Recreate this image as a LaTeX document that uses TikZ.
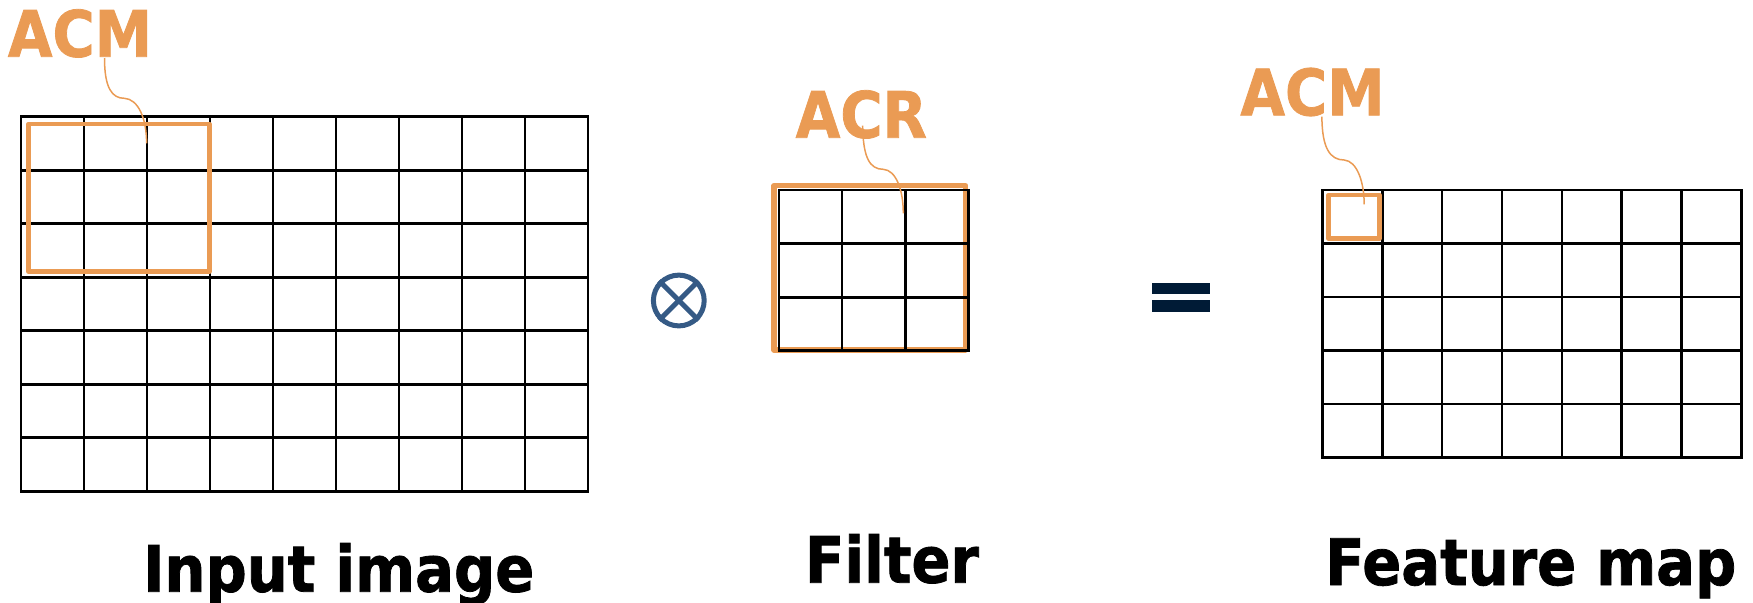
\documentclass[tikz,border=0pt]{standalone}
\usepackage{fontspec}
\newfontfamily\lblfont{DejaVu Sans}[FakeStretch=0.9, FakeBold=1.2]
\definecolor{accent}{RGB}{234,155,84}
\definecolor{opblue}{RGB}{53,90,133}
\definecolor{opnavy}{RGB}{0,27,54}
\tikzset{
  gridline/.style={line width=1.35pt, black, line cap=rect},
  window/.style={line width=2.4pt, accent, line join=round},
  leader/.style={line width=0.75pt, accent},
  tag/.style={font=\lblfont\bfseries\fontsize{32}{36}\selectfont, text=accent, inner sep=0pt, anchor=base},
  caption/.style={font=\lblfont\bfseries\fontsize{32}{36}\selectfont, text=black, inner sep=0pt, anchor=base},
}
% draws a cols x rows grid: #1 = left, #2 = top, #3 = cell width, #4 = cell height, #5 = cols, #6 = rows
\newcommand{\cellgrid}[6]{%
  \foreach \i in {0,...,#5}{\draw[gridline] ({#1+\i*#3},#2) -- ({#1+\i*#3},{#2+#6*#4});}
  \foreach \j in {0,...,#6}{\draw[gridline] (#1,{#2+\j*#4}) -- ({#1+#5*#3},{#2+\j*#4});}
}
\begin{document}
\begin{tikzpicture}[x=0.5pt, y=-0.5pt]
\useasboundingbox (0,0) rectangle (1753,602);

% ---- input image: 9 x 7 cells with a 3 x 3 window ----
\cellgrid{21}{116.7}{63.0}{53.5}{9}{7}
\draw[window] (28.7,124) rectangle (209.3,271.5);
\node[tag] (tagin) at (80,56.7) {ACM};
\coordinate (tagin-foot) at (104.5,58);
\coordinate (tagin-tip) at (146.6,143.3);
\draw[leader] (tagin-foot) .. controls (104.5,88) and (112,98.3) .. (124.4,98.3)
              .. controls (138,99) and (146.6,118) .. (tagin-tip);
\node[caption] (capin) at (338.7,591.7) {Input image};

% ---- convolution operator ----
\node[circle, draw=opblue, line width=2.5pt, minimum size=25.4pt, inner sep=0pt] (conv) at (678.8,300.5) {};
\draw[opblue, line width=2.5pt] (conv.north west) -- (conv.south east);
\draw[opblue, line width=2.5pt] (conv.north east) -- (conv.south west);

% ---- filter: 3 x 3 cells ----
\draw[window, line width=2.6pt] (774,185.7) rectangle (965.7,350);
\cellgrid{779}{190}{63.1}{53.6}{3}{3}
\node[tag] (tagf) at (861.3,137.7) {ACR};
\coordinate (tagf-foot) at (862.7,125.7);
\coordinate (tagf-tip) at (903.3,213.3);
\draw[leader] (tagf-foot) .. controls (863,158) and (870,169.3) .. (883.3,169.3)
              .. controls (896,170) and (903.3,190) .. (tagf-tip);
\node[caption] (capf) at (892,582.7) {Filter};

% ---- equals sign ----
\fill[opnavy] (1152,282.7) rectangle (1209.6,294);
\fill[opnavy] (1152,300) rectangle (1209.6,311.7);

% ---- feature map: 7 x 5 cells with one highlighted cell ----
\cellgrid{1322.3}{190}{59.9}{53.5}{7}{5}
\draw[window] (1328.7,195) rectangle (1379.4,238.7);
\node[tag] (tagout) at (1312.5,115.3) {ACM};
\coordinate (tagout-foot) at (1321.9,116.7);
\coordinate (tagout-tip) at (1364.2,204.3);
\draw[leader] (tagout-foot) .. controls (1322,148) and (1330,160) .. (1344.2,160)
              .. controls (1357,161) and (1364.2,182) .. (tagout-tip);
\node[caption] (capout) at (1530.8,585) {Feature map};
\end{tikzpicture}
\end{document}
